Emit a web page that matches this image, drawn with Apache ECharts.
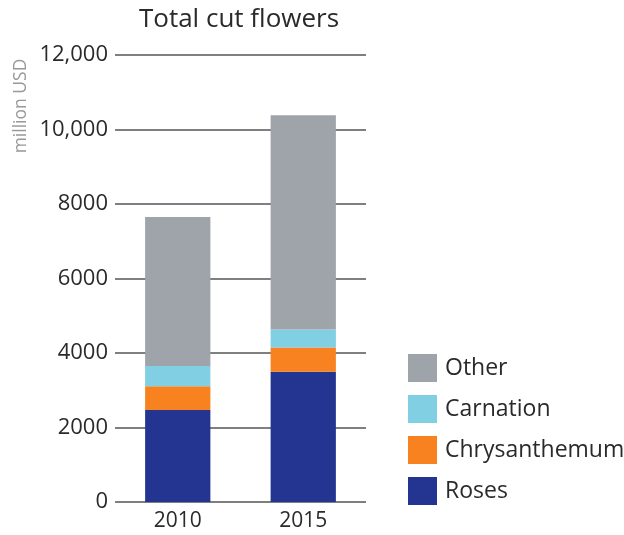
<!DOCTYPE html>
<html>
<head>
<meta charset="utf-8">
<script src="https://cdn.jsdelivr.net/npm/echarts@6/dist/echarts.min.js"></script>
<style>html,body{margin:0;padding:0;background:#fff}#c{width:624px;height:535px}</style>
</head>
<body>
<div id="c"></div>
<script>
const categories = ['2010', '2015'];
const roses = [2470, 3500];
const chrysanthemum = [640, 650];
const carnation = [540, 480];
const other = [4000, 5750];
const legendOrder = ['Other', 'Carnation', 'Chrysanthemum', 'Roses'];

const FONT = '"Open Sans", "Noto Sans", sans-serif';
const chart = echarts.init(document.getElementById('c'));
function bar(name, data, color) {
  return { name, type: 'bar', stack: 'total', data, barWidth: '52%',
    itemStyle: { color }, emphasis: { disabled: true } };
}
chart.setOption({
  animation: false,
  title: { text: 'Total cut flowers', left: 234, top: 2, textAlign: 'center',
    textStyle: { fontFamily: FONT, fontSize: 26, fontWeight: 'normal', color: '#2a2a2a' } },
  grid: { left: 115, right: 258, top: 55, bottom: 33, containLabel: false },
  legend: { orient: 'vertical', left: 403, top: 349, itemWidth: 29, itemHeight: 28, itemGap: 13,
    icon: 'rect', data: legendOrder,
    textStyle: { fontFamily: FONT, fontSize: 23, color: '#2a2a2a', padding: [0, 0, 0, 3] } },
  xAxis: { type: 'category', data: categories,
    axisLine: { show: false }, axisTick: { show: false },
    axisLabel: { fontFamily: FONT, fontSize: 21, color: '#2a2a2a', margin: 9 } },
  yAxis: { type: 'value', min: 0, max: 12000, interval: 2000,
    axisLine: { show: false }, axisTick: { show: false },
    splitLine: { lineStyle: { color: '#555', width: 1.5 } },
    axisLabel: { fontFamily: FONT, fontSize: 22, color: '#2a2a2a', margin: 7,
      formatter: v => v >= 10000 ? v.toLocaleString('en-US') : String(v) } },
  graphic: [{ type: 'text', x: 21, y: 106, rotation: Math.PI / 2,
    style: { text: 'million USD', fontFamily: FONT, fontSize: 17.5, fill: '#999',
      textAlign: 'center', textVerticalAlign: 'middle' } }],
  series: [
    bar('Roses', roses, '#233591'),
    bar('Chrysanthemum', chrysanthemum, '#f7821f'),
    bar('Carnation', carnation, '#80cfe3'),
    bar('Other', other, '#9ea4aa')
  ]
});
</script>
</body>
</html>
